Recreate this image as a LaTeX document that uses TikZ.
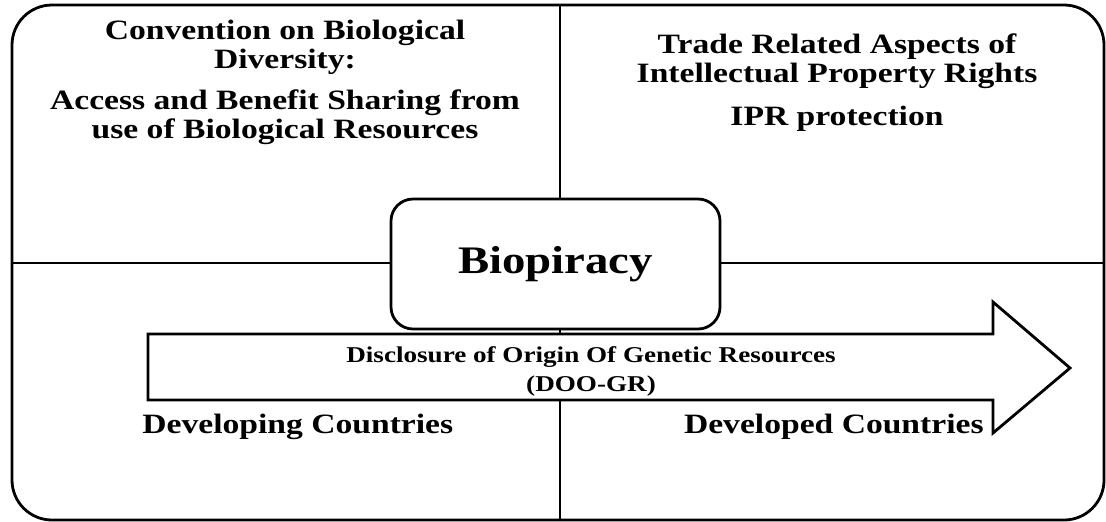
\documentclass[tikz,border=0pt]{standalone}
\usepackage{fontspec}
\setmainfont{Liberation Serif}[FakeStretch=1.2]
\tikzset{
    quad text/.style={font=\fontsize{14}{14.5}\selectfont\bfseries, align=center, anchor=base, inner sep=0pt},
    arrow text/.style={font=\fontsize{11.3}{14.5}\selectfont\bfseries, align=center, anchor=base, inner sep=0pt},
    bio box/.style={draw, fill=white, rounded corners=11pt, minimum width=164.5pt, minimum height=65pt,
        font=\fontsize{19.5}{20}\selectfont\bfseries}
}
\begin{document}
\begin{tikzpicture}[x=0.5pt, y=-0.5pt, line width=1.4pt]
    \useasboundingbox (0,0) rectangle (1106,521);
    % Frame and quadrant lines
    \draw[rounded corners=20pt] (12,5) rectangle (1104,520);
    \coordinate (top) at (560,5);
    \coordinate (bottom) at (560,520);
    \coordinate (left) at (12,263);
    \coordinate (right) at (1104,263);
    \draw (top) -- (bottom);
    \draw (left) -- (right);

    % Central box
    \node[bio box] (bio) at (555.5,264) {Biopiracy};

    % Big arrow from developing to developed countries
    \draw[fill=white] (148,334) -- (993,334) -- (993,302) -- (1070,368)
        -- (993,433) -- (993,400) -- (148,400) -- cycle;
    \node[arrow text] (doo) at (591,391) {Disclosure of Origin Of Genetic Resources\\(DOO-GR)};

    % Quadrant texts (base = last line)
    \node[quad text] (cbd) at (285,68) {Convention on Biological\\Diversity:};
    \node[quad text] (abs) at (285,138) {Access and Benefit Sharing from\\use of Biological Resources};
    \node[quad text] (trips) at (837,82) {Trade Related Aspects of\\Intellectual Property Rights};
    \node[quad text] (ipr) at (837,125) {IPR protection};
    \node[quad text, anchor=base west] (devg) at (141,433) {Developing Countries};
    \node[quad text, anchor=base east] (devd) at (985,433) {Developed Countries};
\end{tikzpicture}
\end{document}
